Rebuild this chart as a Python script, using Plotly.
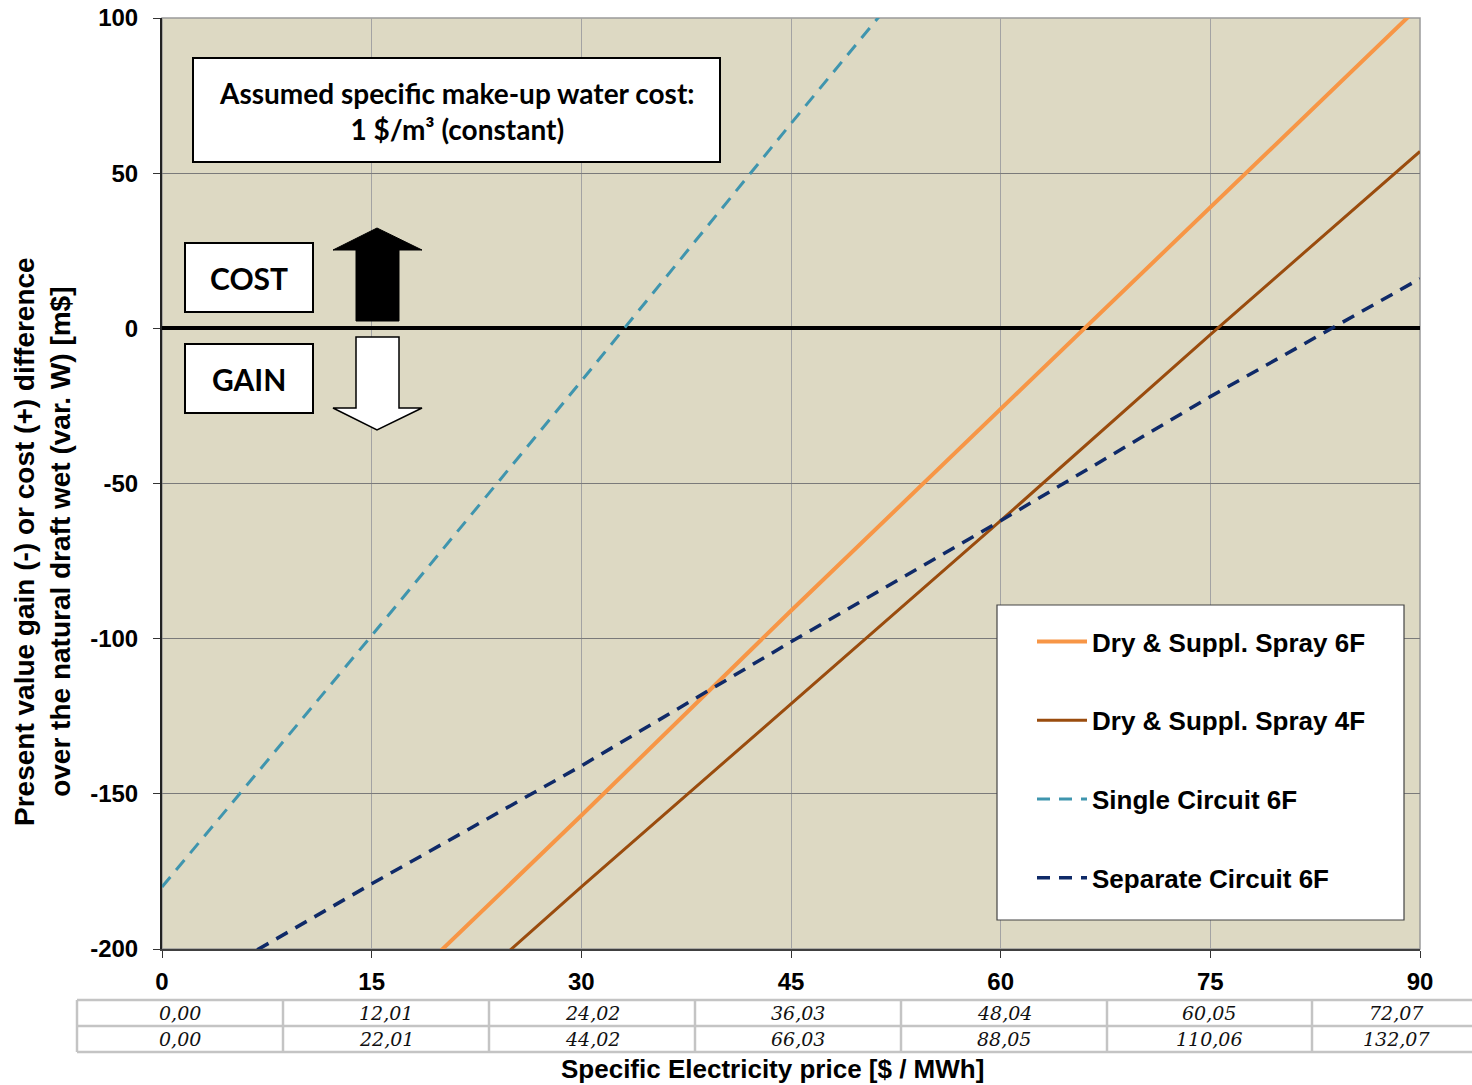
import plotly.graph_objects as go

# ---------------- data ----------------
price = [0, 15, 30, 45, 60, 75, 90]
dry_spray_6f = [-287, -222, -157, -91, -26, 39, 104]
dry_spray_4f = [-299, -240, -180, -121, -62, -2, 57]
single_circuit_6f = [-180, -99, -17, 66, 148, 230, 312]
separate_circuit_6f = [-218, -179, -141, -101, -62, -22, 16]

series_names = ["Dry & Suppl. Spray 6F", "Dry & Suppl. Spray 4F",
                "Single Circuit 6F", "Separate Circuit 6F"]

x_ticks = [0, 15, 30, 45, 60, 75, 90]
y_ticks = [-200, -150, -100, -50, 0, 50, 100]
table_row1 = ["0,00", "12,01", "24,02", "36,03", "48,04", "60,05", "72,07"]
table_row2 = ["0,00", "22,01", "44,02", "66,03", "88,05", "110,06", "132,07"]

# ---------------- layout helpers (reference pixel -> paper / data) ----------------
W, H = 1472, 1085
L, R, T, B = 162, 1420, 18, 949   # plot area in pixels


def px(x):
    return (x - L) / (R - L)


def py(y):
    return (B - y) / (B - T)


def dx(x):
    return (x - L) / (R - L) * 90


def dy(y):
    return 100 - (y - T) / (B - T) * 300


fig = go.Figure()
styles = [
    dict(color="#F79646", width=4),
    dict(color="#9A4C0E", width=3),
    dict(color="#3F95AE", width=3, dash="13px,9px"),
    dict(color="#0F2A68", width=3.5, dash="13px,9px"),
]
for i, (name, ys) in enumerate(zip(series_names,
                                   [dry_spray_6f, dry_spray_4f, single_circuit_6f, separate_circuit_6f])):
    fig.add_trace(go.Scatter(x=price, y=ys, mode="lines", name=name, line=styles[i],
                             legendgroup=f"g{i}"))

shapes = []
annotations = []


def ann(**kw):
    kw.setdefault("showarrow", False)
    kw.setdefault("xanchor", "center")
    kw.setdefault("yanchor", "middle")
    annotations.append(kw)


# plot border (gray)
shapes.append(dict(type="rect", xref="paper", yref="paper", x0=0, x1=1, y0=0, y1=1,
                   line=dict(color="#9a9a9a", width=1.5), layer="below"))

# Assumed cost box
shapes.append(dict(type="rect", xref="x", yref="y", x0=dx(193), x1=dx(720), y0=dy(162), y1=dy(58),
                   line=dict(color="black", width=2), fillcolor="white", layer="above"))
ann(xref="x", yref="y", x=dx(457), y=dy(111),
    text="<b>Assumed specific make-up water cost:<br>1 $/m³ (constant)</b>",
    font=dict(family="Lato", size=28, color="black"), align="center")

# COST / GAIN boxes
shapes.append(dict(type="rect", xref="x", yref="y", x0=dx(185), x1=dx(313), y0=dy(312), y1=dy(243),
                   line=dict(color="black", width=2), fillcolor="white", layer="above"))
ann(xref="x", yref="y", x=dx(249), y=dy(278), text="<b>COST</b>",
    font=dict(family="Lato", size=30, color="black"))
shapes.append(dict(type="rect", xref="x", yref="y", x0=dx(185), x1=dx(313), y0=dy(413), y1=dy(344),
                   line=dict(color="black", width=2), fillcolor="white", layer="above"))
ann(xref="x", yref="y", x=dx(249), y=dy(379), text="<b>GAIN</b>",
    font=dict(family="Lato", size=30, color="black"))

# arrows
up = (f"M {dx(356)},{dy(321)} L {dx(356)},{dy(250)} L {dx(333)},{dy(250)} L {dx(377)},{dy(228)} "
      f"L {dx(422)},{dy(250)} L {dx(399)},{dy(250)} L {dx(399)},{dy(321)} Z")
shapes.append(dict(type="path", xref="x", yref="y", path=up, fillcolor="black",
                   line=dict(color="black", width=1), layer="above"))
down = (f"M {dx(356)},{dy(337)} L {dx(356)},{dy(408)} L {dx(333)},{dy(408)} L {dx(377)},{dy(430)} "
        f"L {dx(422)},{dy(408)} L {dx(399)},{dy(408)} L {dx(399)},{dy(337)} Z")
shapes.append(dict(type="path", xref="x", yref="y", path=down, fillcolor="white",
                   line=dict(color="black", width=1.5), layer="above"))

# legend box
shapes.append(dict(type="rect", xref="paper", yref="paper", x0=px(997), x1=px(1404), y0=py(920), y1=py(605),
                   line=dict(color="#444444", width=1.2), fillcolor="white", layer="above"))

# table below x axis
tcol = "#c4c4c4"
edges = [77, 283, 489, 695, 901, 1107, 1312]
for yy in [1000, 1026, 1052]:
    shapes.append(dict(type="line", xref="paper", yref="paper", x0=px(77), x1=px(1480),
                       y0=py(yy), y1=py(yy), line=dict(color=tcol, width=2.5)))
for xx in edges:
    shapes.append(dict(type="line", xref="paper", yref="paper", x0=px(xx), x1=px(xx),
                       y0=py(1000), y1=py(1052), line=dict(color=tcol, width=2.5)))
centers = [180, 386, 592, 798, 1004, 1209, 1396]
for c, a, b in zip(centers, table_row1, table_row2):
    ann(xref="paper", yref="paper", x=px(c), y=py(1013), text=f"<i>{a}</i>",
        font=dict(family="DejaVu Serif", size=19, color="#111"))
    ann(xref="paper", yref="paper", x=px(c), y=py(1039), text=f"<i>{b}</i>",
        font=dict(family="DejaVu Serif", size=19, color="#111"))

# axis titles
ann(xref="paper", yref="paper", x=px(772), y=py(1069),
    text="<b>Specific Electricity price [$ / MWh]</b>",
    font=dict(family="Liberation Sans", size=26, color="black"))
ann(xref="paper", yref="paper", x=px(42), y=py(542), textangle=-90,
    text="<b>Present value gain (-) or cost (+) difference<br>over the natural draft wet (var. W) [m$]</b>",
    font=dict(family="Liberation Sans", size=28, color="black"))

fig.update_layout(
    width=W, height=H,
    margin=dict(l=L, r=W - R, t=T, b=H - B, pad=0, autoexpand=False),
    paper_bgcolor="white",
    plot_bgcolor="#DDD9C3",
    shapes=shapes,
    annotations=annotations,
    showlegend=True,
    legend=dict(x=px(1032), y=py(618), xanchor="left", yanchor="top",
                bgcolor="rgba(0,0,0,0)", borderwidth=0,
                font=dict(family="Liberation Sans", size=26, color="black", weight="bold"),
                traceorder="grouped", tracegroupgap=42, itemwidth=50),
    font=dict(family="Liberation Sans"),
)
fig.update_xaxes(range=[0, 90], tickvals=x_ticks, ticktext=[f"<b>{v}</b>" for v in x_ticks],
                 tickfont=dict(size=24, color="black"), ticks="outside", ticklen=7, tickcolor="#333",
                 ticklabelstandoff=3, ticklabeloverflow="allow",
                 showgrid=True, gridcolor="#a3a3a3", gridwidth=1, automargin=False,
                 showline=True, linecolor="#404040", linewidth=2, zeroline=False)
fig.update_yaxes(range=[-200, 100], tickvals=y_ticks, ticktext=[f"<b>{v}</b>" for v in y_ticks],
                 tickfont=dict(size=24, color="black"), ticks="outside", ticklen=7, tickcolor="#333",
                 ticklabelstandoff=10, ticklabeloverflow="allow",
                 showgrid=True, gridcolor="#7a7a7a", gridwidth=1.3, automargin=False,
                 showline=True, linecolor="#222", linewidth=2,
                 zeroline=True, zerolinecolor="black", zerolinewidth=4)

fig.write_html("out.html", config={"displayModeBar": False},
               post_script="document.body.style.margin='0';document.body.style.overflow='hidden';")
